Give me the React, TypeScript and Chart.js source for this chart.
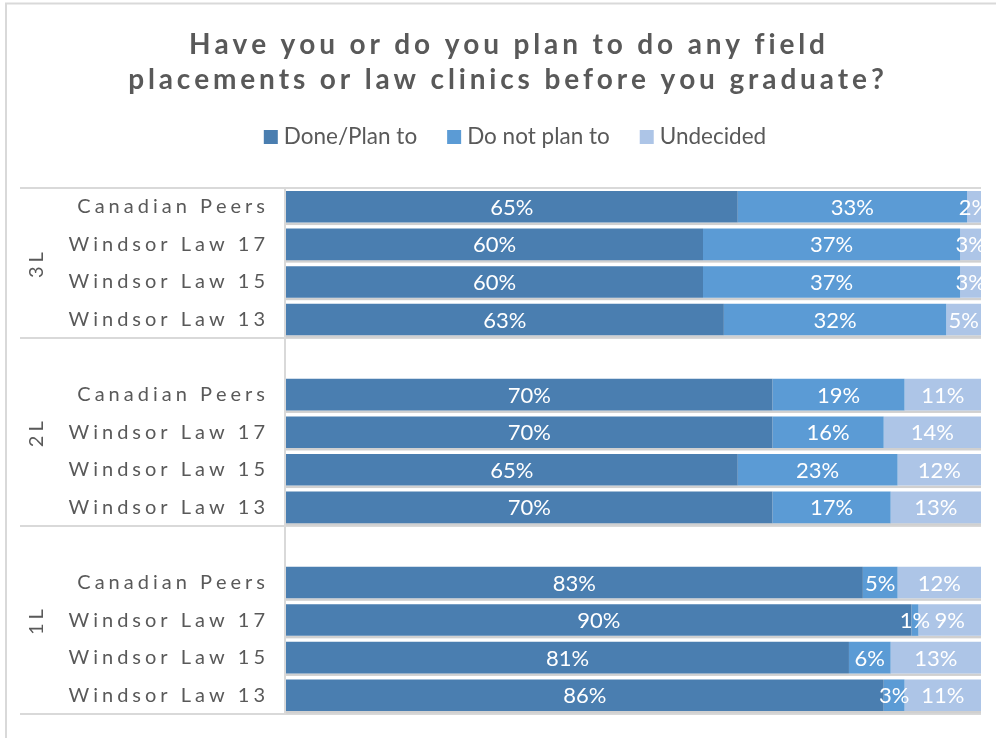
import React, { useEffect, useRef } from 'react';
import { Chart, registerables } from 'chart.js';

Chart.register(...registerables);

const TITLE_LINES = ['Have you or do you plan to do any field', 'placements or law clinics before you graduate?'];
const SERIES_NAMES = ['Done/Plan to', 'Do not plan to', 'Undecided'];
const SERIES_COLORS = ['#4A7EB0', '#5B9BD5', '#ADC5E7'];
const ROW_LABELS = [
  'Canadian Peers', 'Windsor Law 17', 'Windsor Law 15', 'Windsor Law 13',
  '',
  'Canadian Peers', 'Windsor Law 17', 'Windsor Law 15', 'Windsor Law 13',
  '',
  'Canadian Peers', 'Windsor Law 17', 'Windsor Law 15', 'Windsor Law 13',
];
const GROUP_LABELS = ['3L', '2L', '1L'];
const GROUP_SIZES = [4, 5, 5];
const DONE = [65, 60, 60, 63, null, 70, 70, 65, 70, null, 83, 90, 81, 86];
const NOT_PLAN = [33, 37, 37, 32, null, 19, 16, 23, 17, null, 5, 1, 6, 3];
const UNDECIDED = [2, 3, 3, 5, null, 11, 14, 12, 13, null, 12, 9, 13, 11];

const FONT = 'Lato, "Open Sans", sans-serif';
const TEXT_COLOR = '#595959';
const LINE_COLOR = '#D9D9D9';

function spacedWidth(ctx: CanvasRenderingContext2D, text: string, sp: number) {
  let w = 0;
  for (const ch of text) w += ctx.measureText(ch).width;
  return w + sp * Math.max(0, text.length - 1);
}

function drawSpaced(ctx: CanvasRenderingContext2D, text: string, x: number, y: number, sp: number, align: 'left' | 'center' | 'right') {
  const w = spacedWidth(ctx, text, sp);
  let cx = align === 'center' ? x - w / 2 : align === 'right' ? x - w : x;
  ctx.textAlign = 'left';
  for (const ch of text) {
    ctx.fillText(ch, cx, y);
    cx += ctx.measureText(ch).width + sp;
  }
}

const decorPlugin = {
  id: 'decor',
  beforeDraw(chart: any) {
    const ctx: CanvasRenderingContext2D = chart.ctx;
    const { chartArea } = chart;
    ctx.save();
    ctx.fillStyle = '#FFFFFF';
    ctx.fillRect(0, 0, chart.width, chart.height);
    // frame
    ctx.strokeStyle = LINE_COLOR;
    ctx.lineWidth = 2;
    ctx.beginPath();
    ctx.moveTo(6, chart.height);
    ctx.lineTo(6, 3.5);
    ctx.lineTo(chart.width, 3.5);
    ctx.stroke();

    // title
    ctx.fillStyle = TEXT_COLOR;
    ctx.font = `bold 28px ${FONT}`;
    ctx.textBaseline = 'middle';
    drawSpaced(ctx, TITLE_LINES[0], 507, 45, 3.85, 'center');
    drawSpaced(ctx, TITLE_LINES[1], 506, 80, 3.85, 'center');

    // legend
    ctx.font = `22.5px ${FONT}`;
    const gap = 30;
    const box = 14;
    const widths = SERIES_NAMES.map((n) => box + 6 + ctx.measureText(n).width);
    const total = widths.reduce((a, b) => a + b, 0) + gap * (widths.length - 1);
    let lx = 515 - total / 2;
    SERIES_NAMES.forEach((n, i) => {
      ctx.fillStyle = SERIES_COLORS[i];
      ctx.fillRect(lx, 137 - box / 2, box, box);
      ctx.fillStyle = TEXT_COLOR;
      ctx.textAlign = 'left';
      ctx.fillText(n, lx + box + 6, 137);
      lx += widths[i] + gap;
    });

    // separators
    const y = chart.scales.y;
    const boundary = (k: number) => {
      if (k <= 0) return chartArea.top;
      if (k >= ROW_LABELS.length) return chartArea.bottom;
      return (y.getPixelForValue(k - 1) + y.getPixelForValue(k)) / 2;
    };
    ctx.strokeStyle = LINE_COLOR;
    ctx.lineWidth = 2;
    let start = 0;
    const bounds = [0];
    GROUP_SIZES.forEach((s) => { start += s; bounds.push(start); });
    bounds.forEach((k) => {
      const py = Math.round(boundary(k));
      ctx.beginPath();
      ctx.moveTo(20, py);
      ctx.lineTo(chartArea.right, py);
      ctx.stroke();
    });
    ctx.beginPath();
    ctx.moveTo(chartArea.left - 1, chartArea.top);
    ctx.lineTo(chartArea.left - 1, chartArea.bottom);
    ctx.stroke();

    // row labels
    ctx.fillStyle = TEXT_COLOR;
    ctx.font = `20px ${FONT}`;
    ctx.textBaseline = 'middle';
    ROW_LABELS.forEach((lab, i) => {
      if (!lab) return;
      drawSpaced(ctx, lab, chartArea.left - 21, y.getPixelForValue(i), 4.0, 'right');
    });

    // group labels
    GROUP_LABELS.forEach((g, gi) => {
      const top = boundary(bounds[gi]);
      const bot = boundary(bounds[gi + 1]);
      ctx.save();
      ctx.translate(37, (top + bot) / 2 + 2);
      ctx.rotate(-Math.PI / 2);
      drawSpaced(ctx, g, 0, 0, 4, 'center');
      ctx.restore();
    });

    ctx.restore();
  },
  beforeDatasetsDraw(chart: any) {
    const ctx: CanvasRenderingContext2D = chart.ctx;
    const { chartArea } = chart;
    const meta = chart.getDatasetMeta(0);
    ctx.save();
    meta.data.forEach((el: any, i: number) => {
      if (DONE[i] == null) return;
      const { y, height } = el.getProps(['y', 'height'], true);
      ctx.fillStyle = '#D0D0D0';
      ctx.fillRect(chartArea.left, y + height / 2, chartArea.right - chartArea.left, 2.5);
    });
    ctx.restore();
  },
  afterDatasetsDraw(chart: any) {
    const ctx: CanvasRenderingContext2D = chart.ctx;
    ctx.save();
    ctx.fillStyle = '#FFFFFF';
    ctx.font = `22px ${FONT}`;
    ctx.textAlign = 'center';
    ctx.textBaseline = 'middle';
    chart.data.datasets.forEach((ds: any, d: number) => {
      const meta = chart.getDatasetMeta(d);
      meta.data.forEach((el: any, i: number) => {
        const v = ds.data[i];
        if (v == null) return;
        const { x, y, base } = el.getProps(['x', 'y', 'base'], true);
        ctx.fillText(`${v}%`, (x + base) / 2, y + 1);
      });
    });
    ctx.restore();
  },
};

export default function App() {
  const ref = useRef<HTMLCanvasElement>(null);
  useEffect(() => {
    const chart = new Chart(ref.current!, {
      type: 'bar',
      data: {
        labels: ROW_LABELS,
        datasets: [
          { label: SERIES_NAMES[0], data: DONE, backgroundColor: SERIES_COLORS[0] },
          { label: SERIES_NAMES[1], data: NOT_PLAN, backgroundColor: SERIES_COLORS[1] },
          { label: SERIES_NAMES[2], data: UNDECIDED, backgroundColor: SERIES_COLORS[2] },
        ],
      },
      options: {
        indexAxis: 'y',
        responsive: false,
        animation: false,
        devicePixelRatio: 1,
        barPercentage: 0.84,
        categoryPercentage: 1,
        layout: { padding: { top: 188, bottom: 24, left: 286, right: 15 } },
        plugins: { legend: { display: false }, title: { display: false }, tooltip: { enabled: false } },
        scales: {
          x: { stacked: true, min: 0, max: 100, display: false },
          y: { stacked: true, display: false },
        },
      },
      plugins: [decorPlugin],
    } as any);
    return () => chart.destroy();
  }, []);
  return (
    <div style={{ position: 'fixed', left: 0, top: 0, width: 996, height: 738, background: '#fff' }}>
      <canvas ref={ref} width={996} height={738} style={{ display: 'block', width: 996, height: 738 }} />
    </div>
  );
}
